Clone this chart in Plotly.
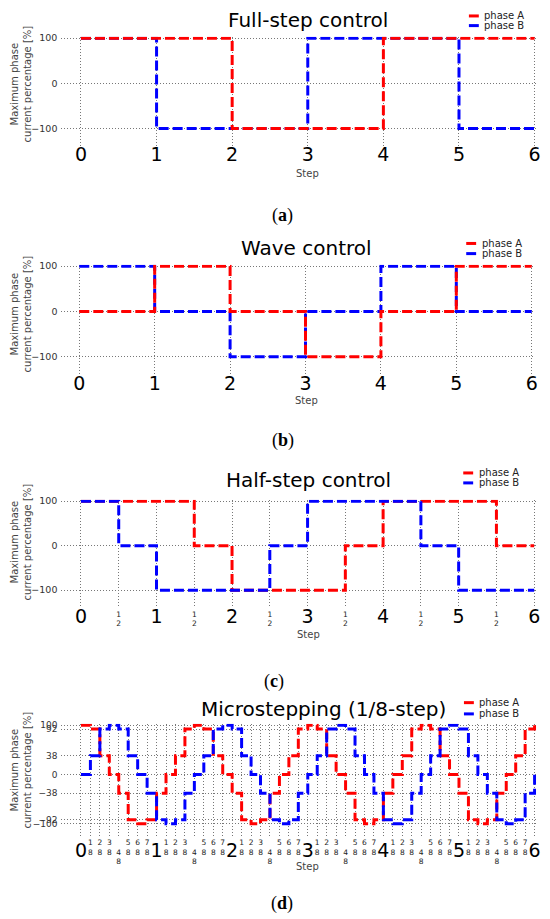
import plotly.graph_objects as go

W, H = 550, 919

# ---------------- data ----------------
full_steps = [0, 1, 2, 3, 4, 5, 6]
full_A = [100, 100, -100, -100, 100, 100, 100]
full_B = [100, -100, -100, 100, 100, -100, -100]

wave_steps = [0, 1, 2, 3, 4, 5, 6]
wave_A = [0, 100, 0, -100, 0, 100, 100]
wave_B = [100, 0, -100, 0, 100, 0, 0]

half_steps = [0, 0.5, 1, 1.5, 2, 2.5, 3, 3.5, 4, 4.5, 5, 5.5, 6]
half_A = [100, 100, 100, 0, -100, -100, -100, 0, 100, 100, 100, 0, 0]
half_B = [100, 0, -100, -100, -100, 0, 100, 100, 100, 0, -100, -100, -100]

micro_steps = [k / 8 for k in range(49)]
micro_A = [100, 92, 38, 0, -38, -92, -100, -92, -38, 0, 38, 92,
           100, 92, 38, 0, -38, -92, -100, -92, -38, 0, 38, 92,
           100, 92, 38, 0, -38, -92, -100, -92, -38, 0, 38, 92,
           100, 92, 38, 0, -38, -92, -100, -92, -38, 0, 38, 92,
           100]
micro_B = [0, 38, 92, 100, 92, 38, 0, -38, -92, -100, -92, -38,
           0, 38, 92, 100, 92, 38, 0, -38, -92, -100, -92, -38,
           0, 38, 92, 100, 92, 38, 0, -38, -92, -100, -92, -38,
           0, 38, 92, 100, 92, 38, 0, -38, -92, -100, -92, -38,
           0]

major_ticks = [0, 1, 2, 3, 4, 5, 6]
major_labels = ["0", "1", "2", "3", "4", "5", "6"]
half_ticks = [0.5, 1.5, 2.5, 3.5, 4.5, 5.5]
half_labels = ["1<br>2"] * 6
eighth_ticks = [k / 8 for k in range(48) if k % 8]
eighth_labels = [("<br>" if k % 8 == 4 else "") + f"{k % 8}<br>8" for k in range(48) if k % 8]
yticks_main = [-100, 0, 100]
yticks_micro = [-100, -92, -38, 0, 38, 92, 100]

titles = ["Full-step control", "Wave control", "Half-step control", "Microstepping (1/8-step)"]
panel_letters = ["a", "b", "c", "d"]
series_names = ["phase A", "phase B"]

RED = "#ff0000"
BLUE = "#0000ff"
FONT = "DejaVu Sans"
GRID = "#777777"
DASH = "10px,4px"

# ---------------- layout geometry (pixels) ----------------
panels = [
    dict(x0=81.7, x6=539.5, y100=34.3, ym100=125.0, bottom=143.0,
         title=(311, 16), leg=(486.7, 12.0, 21.7), step=(310, 170), ytitle=80, label=(285, 212),
         std=-5, fstd=0, yfs=9.5),
    dict(x0=80.0, x6=536.6, y100=263.3, ym100=354.3, bottom=373.0,
         title=(309.5, 245.5), leg=(484.0, 240.5, 250.7), step=(309.5, 398.3), ytitle=311, label=(286, 438.5),
         std=-5, fstd=0, yfs=9.5),
    dict(x0=81.7, x6=539.1, y100=499.3, ym100=588.7, bottom=606.7,
         title=(311.8, 478.3), leg=(481.0, 471.0, 481.0), step=(311, 633.3), ytitle=540, label=(277, 680),
         std=-5, fstd=0, yfs=9.5),
    dict(x0=81.7, x6=539.5, y100=724.3, ym100=823.3, bottom=838.0,
         title=(326.7, 708.3), leg=(481.7, 701.7, 713.0), step=(310, 866), ytitle=769, label=(285, 903),
         std=-1, fstd=-2, yfs=9),
]

series = [
    (full_steps, full_A, full_B, "BA"),
    (wave_steps, wave_A, wave_B, "BA"),
    (half_steps, half_A, half_B, "AB"),
    (micro_steps, micro_A, micro_B, "AB"),
]

fx = lambda px: px / W
fy = lambda py: 1 - py / H

fig = go.Figure()
annotations = []
shapes = []
LEFT_PX = 62.0

for i, (p, (xs, ya, yb, order)) in enumerate(zip(panels, series)):
    n = i + 1
    sx = "" if n == 1 else str(n)
    unit = (p["x6"] - p["x0"]) / 6
    xr = [-(p["x0"] - LEFT_PX) / unit, 6.02]
    right_px = p["x6"] + 0.02 * unit
    k = (p["ym100"] - p["y100"]) / 200
    top_px = p["y100"] - 3 * k
    yr = [-100 - (p["bottom"] - p["ym100"]) / k, 103]

    fig.layout["xaxis" + sx] = dict(
        domain=[fx(LEFT_PX), fx(right_px)], range=xr, anchor="y" + sx,
        tickmode="array", tickvals=major_ticks, ticktext=major_labels,
        ticks="", ticklabelstandoff=p["std"],
        tickfont=dict(family=FONT, size=19, color="#000000"),
        showgrid=True, gridcolor=GRID, griddash="1px,2px", gridwidth=1,
        zeroline=False, showline=False, fixedrange=True,
    )
    fig.layout["yaxis" + sx] = dict(
        domain=[fy(p["bottom"]), fy(top_px)], range=yr, anchor="x" + sx,
        tickmode="array", tickvals=(yticks_micro if n == 4 else yticks_main),
        ticks="", ticklabelstandoff=3,
        tickfont=dict(family=FONT, size=p["yfs"], color="#333333"),
        showgrid=True, gridcolor=GRID, griddash="1px,2px", gridwidth=1,
        zeroline=False, showline=False, fixedrange=True,
    )

    if n in (3, 4):
        on = n + 2
        fig.layout[f"xaxis{on}"] = dict(
            overlaying="x" + sx, anchor="y" + sx, range=xr, side="bottom",
            tickmode="array",
            tickvals=(half_ticks if n == 3 else eighth_ticks),
            ticktext=(half_labels if n == 3 else eighth_labels),
            ticks="", ticklabelstandoff=p["fstd"],
            tickfont=dict(family=FONT, size=7.5, color="#222222"),
            showgrid=True, gridcolor=GRID, griddash="1px,2px", gridwidth=1,
            zeroline=False, showline=False, fixedrange=True,
        )
        fig.add_trace(go.Scatter(x=[], y=[], xaxis=f"x{on}", yaxis="y" + sx,
                                 showlegend=False, hoverinfo="skip"))

    traces = {"A": (ya, RED, series_names[0]), "B": (yb, BLUE, series_names[1])}
    for key in order:
        yv, col, nm = traces[key]
        fig.add_trace(go.Scatter(
            x=xs, y=yv, mode="lines", name=nm, showlegend=False,
            line=dict(shape="hv", color=col, width=3, dash=DASH),
            xaxis="x" + sx, yaxis="y" + sx, cliponaxis=True,
        ))

    # title
    annotations.append(dict(text=titles[i], x=fx(p["title"][0]), y=fy(p["title"][1]),
                            xref="paper", yref="paper", xanchor="center", yanchor="middle",
                            showarrow=False, font=dict(family=FONT, size=20, color="#000000")))
    # legend
    lx, la, lb = p["leg"]
    for yy, col, nm in ((la, RED, series_names[0]), (lb, BLUE, series_names[1])):
        shapes.append(dict(type="line", xref="paper", yref="paper",
                           x0=fx(lx - 13.5), x1=fx(lx - 3.5), y0=fy(yy), y1=fy(yy),
                           line=dict(color=col, width=3)))
        annotations.append(dict(text=nm, x=fx(lx), y=fy(yy), xref="paper", yref="paper",
                                xanchor="left", yanchor="middle", showarrow=False,
                                font=dict(family=FONT, size=10, color="#222222")))
    # x title
    annotations.append(dict(text="Step", x=fx(p["step"][0]), y=fy(p["step"][1]),
                            xref="paper", yref="paper", xanchor="center", yanchor="middle",
                            showarrow=False, font=dict(family=FONT, size=10, color="#444444")))
    # y title
    annotations.append(dict(text="Maximum phase<br>current percentage [%]",
                            x=fx(21), y=fy(p["ytitle"]), xref="paper", yref="paper",
                            xanchor="center", yanchor="middle", textangle=-90, showarrow=False,
                            font=dict(family=FONT, size=10, color="#444444")))
    # panel label
    annotations.append(dict(text=f"(<b>{panel_letters[i]}</b>)", x=fx(p["label"][0]), y=fy(p["label"][1]),
                            xref="paper", yref="paper", xanchor="center", yanchor="middle",
                            showarrow=False, font=dict(family="Liberation Serif", size=18, color="#000000")))

fig.update_layout(
    width=W, height=H, autosize=False,
    margin=dict(l=0, r=0, t=0, b=0),
    paper_bgcolor="white", plot_bgcolor="white",
    showlegend=False, annotations=annotations, shapes=shapes,
    font=dict(family=FONT),
)

fig.write_html(
    "out.html",
    config={"displayModeBar": False},
    post_script="document.body.style.margin='0px';document.body.style.overflow='hidden';",
)
